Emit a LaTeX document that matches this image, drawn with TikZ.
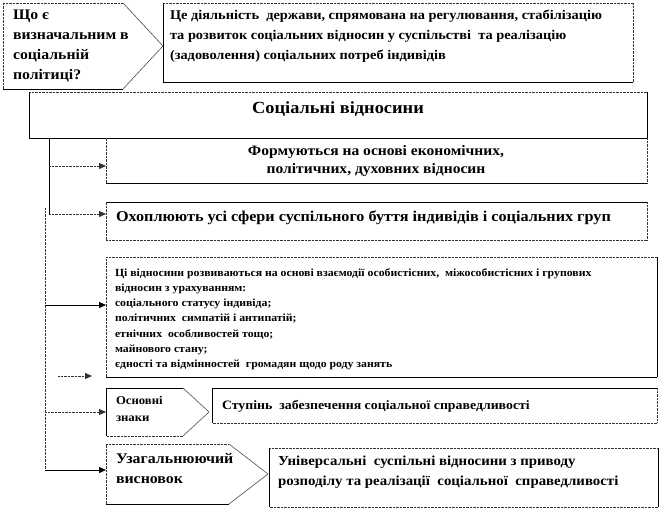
\documentclass[tikz,border=0pt]{standalone}
\usepackage{fontspec}
\setmainfont{Liberation Serif}[FakeStretch=1.08]
\usetikzlibrary{arrows.meta,calc}
\newcommand\edgesbox[5]{%
  \draw[#2] (#1.north west) -- (#1.north east);
  \draw[#3] (#1.north east) -- (#1.south east);
  \draw[#4] (#1.south east) -- (#1.south west);
  \draw[#5] (#1.south west) -- (#1.north west);}
\newcommand\pentbox[5]{% name, notch, top style, left style, bottom style
  \draw[#3] (#1.north west) -- ($(#1.north east)+(-#2,0)$);
  \draw[thinedge] ($(#1.north east)+(-#2,0)$) -- (#1.east) -- ($(#1.south east)+(-#2,0)$);
  \draw[#5] ($(#1.south east)+(-#2,0)$) -- (#1.south west);
  \draw[#4] (#1.south west) -- (#1.north west);}
\begin{document}
\begin{tikzpicture}[x=1pt,y=-1pt,
  solidedge/.style={line width=0.9pt,black},
  dotedge/.style={line width=0.9pt,black!80,dash pattern=on 0.7pt off 0.7pt},
  thinedge/.style={line width=0.6pt,black!70},
  boxnode/.style={draw=none,inner sep=0pt,outer sep=0pt,anchor=north west},
  txt/.style={inner sep=0pt,outer sep=0pt,font=\bfseries},
  arr/.style={-{Triangle[length=7pt,width=6pt]}}]
\useasboundingbox (0,0) rectangle (661,511);
% boxes
\node[boxnode,minimum width=160pt,minimum height=86pt] (q) at (3,3) {};
\node[boxnode,minimum width=470pt,minimum height=79pt] (def) at (163,3) {};
\node[boxnode,minimum width=618pt,minimum height=46pt] (soc) at (29,92) {};
\node[boxnode,minimum width=541pt,minimum height=45pt] (form) at (106,138) {};
\node[boxnode,minimum width=541pt,minimum height=38pt] (cover) at (106,202) {};
\node[boxnode,minimum width=551pt,minimum height=120pt] (rel) at (106,257) {};
\node[boxnode,minimum width=103pt,minimum height=48pt] (signs) at (106,388) {};
\node[boxnode,minimum width=445pt,minimum height=35pt] (degree) at (212,388) {};
\node[boxnode,minimum width=162pt,minimum height=60pt] (concl) at (106,444) {};
\node[boxnode,minimum width=389pt,minimum height=59pt] (univ) at (269,448) {};
% borders
\pentbox{q}{40}{dotedge}{dotedge}{solidedge}
\edgesbox{def}{dotedge}{dotedge}{solidedge}{solidedge}
\edgesbox{soc}{dotedge}{solidedge}{solidedge}{solidedge}
\edgesbox{form}{solidedge}{dotedge}{solidedge}{dotedge}
\edgesbox{cover}{solidedge}{dotedge}{dotedge}{dotedge}
\edgesbox{rel}{dotedge}{solidedge}{solidedge}{dotedge}
\pentbox{signs}{26}{solidedge}{solidedge}{dotedge}
\edgesbox{degree}{solidedge}{dotedge}{dotedge}{solidedge}
\pentbox{concl}{39}{dotedge}{dotedge}{solidedge}
\edgesbox{univ}{dotedge}{solidedge}{dotedge}{solidedge}
% texts
\node[txt,anchor=north west,align=left,font=\bfseries\fontsize{14.6}{20}\selectfont] (qt) at (13,10)
  {Що є\\визначальним в\\соціальній\\політиці?};
\node[txt,anchor=north west,align=left,font=\bfseries\fontsize{13.3}{20}\selectfont] (deft) at (170,9.5)
  {Це діяльність \ держави, спрямована на регулювання, стабілізацію\\та розвиток соціальних відносин у суспільстві \ та реалізацію\\(задоволення) соціальних потреб індивідів};
\node[txt,anchor=base,font=\bfseries\fontsize{17}{20}\selectfont] (soct) at (338,113) {Соціальні відносини};
\node[txt,anchor=center,align=center,font=\bfseries\fontsize{14.4}{18.5}\selectfont] (formt) at (376,161)
  {Формуються на основі економічних,\\політичних, духовних відносин};
\node[txt,anchor=base west,font=\bfseries\fontsize{15}{18}\selectfont] (covert) at (116,221)
  {Охоплюють усі сфери суспільного буття індивідів і соціальних груп};
\node[txt,anchor=north west,align=left,font=\bfseries\fontsize{10.9}{15.2}\selectfont] (relt) at (115,268.5)
  {Ці відносини розвиваються на основі взаємодії особистісних, \ міжособистісних і групових\\відносин з урахуванням:\\соціального статусу індивіда;\\політичних \ симпатій і антипатій;\\етнічних \ особливостей тощо;\\майнового стану;\\єдності та відмінностей \ громадян щодо роду занять};
\node[txt,anchor=north west,align=left,font=\bfseries\fontsize{11.8}{17}\selectfont] (signst) at (116,396.5)
  {Основні\\знаки};
\node[txt,anchor=base west,font=\bfseries\fontsize{12.8}{18}\selectfont] (degreet) at (222,409)
  {Ступінь \ забезпечення соціальної справедливості};
\node[txt,anchor=north west,align=left,font=\bfseries\fontsize{14.7}{20}\selectfont] (conclt) at (116,453.5)
  {Узагальнюючий\\висновок};
\node[txt,anchor=north west,align=left,font=\bfseries\fontsize{13.75}{20}\selectfont] (univt) at (278,456)
  {Універсальні \ суспільні відносини з приводу\\розподілу та реалізації \ соціальної \ справедливості};
% connectors
\coordinate (v0) at (49,138);
\coordinate (v1) at (49,166);
\coordinate (v2) at (49,214);
\coordinate (w0) at (45,208);
\coordinate (w3) at (45,305);
\coordinate (w4) at (45,412);
\coordinate (w5) at (45,470);
\coordinate (s1) at (58,376);
\coordinate (s2) at (92,376);
\draw[solidedge] (v0) -- (v2);
\draw[dotedge] (w0) -- (w5);
\draw[dotedge,arr] (v1) -- (v1 -| form.west);
\draw[dotedge,arr] (v2) -- (v2 -| cover.west);
\draw[solidedge,arr] (w3) -- (w3 -| rel.west);
\draw[dotedge,arr] (s1) -- (s2);
\draw[dotedge,arr] (w4) -- (w4 -| signs.west);
\draw[solidedge,arr] (w5) -- (w5 -| concl.west);
\end{tikzpicture}
\end{document}
